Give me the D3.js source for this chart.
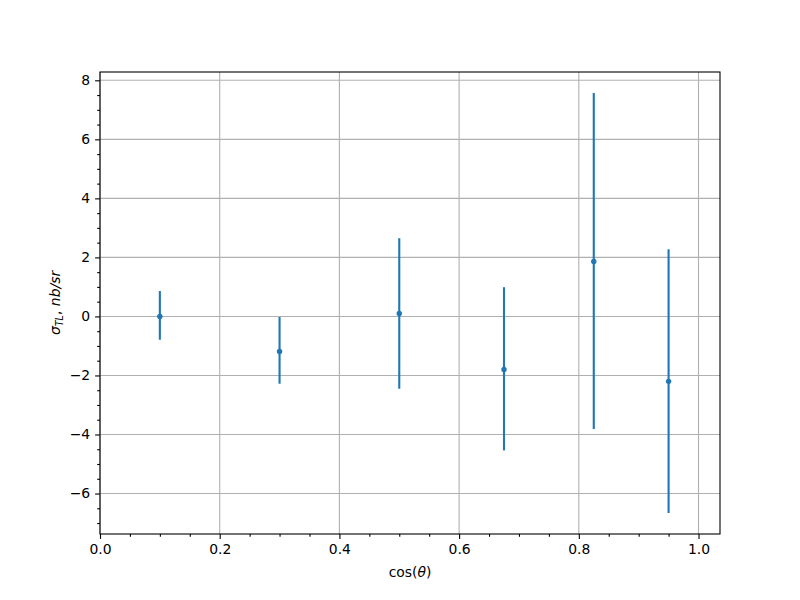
<!DOCTYPE html>
<html>
<head>
<meta charset="utf-8">
<script src="https://d3js.org/d3.v7.min.js"></script>
<style>
  body { margin: 0; background: #fff; }
  text { font-family: "DejaVu Sans", sans-serif; }
</style>
</head>
<body>
<svg id="chart" width="800" height="600"></svg>
<script>
// Data
const cosTheta = [0.1, 0.3, 0.5, 0.675, 0.825, 0.95];
const sigmaTL = [0.0, -1.19, 0.10, -1.80, 1.86, -2.20];
const errUpper = [0.86, 1.17, 2.55, 2.79, 5.71, 4.48];
const errLower = [0.79, 1.09, 2.55, 2.74, 5.67, 4.46];
const xTicks = [0.0, 0.2, 0.4, 0.6, 0.8, 1.0];
const yTicks = [-6, -4, -2, 0, 2, 4, 6, 8];

(function () {
const svg = d3.select("#chart");
const mLeft = 100, mRight = 720, mTop = 72, mBottom = 534;
const W = mRight - mLeft, H = mBottom - mTop;
const blue = "#1f77b4";

const yMinData = d3.min(sigmaTL.map((v, i) => v - errLower[i]));
const yMaxData = d3.max(sigmaTL.map((v, i) => v + errUpper[i]));
const pad = 0.05 * (yMaxData - yMinData);

const x = d3.scaleLinear().domain([0, 1.0359]).range([mLeft, mRight]);
const y = d3.scaleLinear().domain([yMinData - pad, yMaxData + pad]).range([mBottom, mTop]);

svg.append("rect").attr("x", 0).attr("y", 0).attr("width", 800).attr("height", 600).attr("fill", "#fff");

// grid
const g = svg.append("g");
g.selectAll(".gx").data(xTicks).enter().append("line")
  .attr("x1", d => x(d)).attr("x2", d => x(d)).attr("y1", mTop).attr("y2", mBottom)
  .attr("stroke", "#b0b0b0").attr("stroke-width", 1.1);
g.selectAll(".gy").data(yTicks).enter().append("line")
  .attr("x1", mLeft).attr("x2", mRight).attr("y1", d => y(d)).attr("y2", d => y(d))
  .attr("stroke", "#b0b0b0").attr("stroke-width", 1.1);

// axes
const fmtX = d3.format(".1f");
const xAxis = d3.axisBottom(x).tickValues(xTicks).tickFormat(fmtX).tickSize(4.9).tickPadding(4.9);
const xMinor = d3.range(0, 1.0359, 0.05).filter(v => Math.abs(v / 0.2 - Math.round(v / 0.2)) > 1e-6);
const xAxisMinor = d3.axisBottom(x).tickValues(xMinor).tickFormat("").tickSize(2.8);
const yAxis = d3.axisLeft(y).tickValues(yTicks).tickFormat(d => d < 0 ? "\u2212" + Math.abs(d) : d).tickSize(4.9).tickPadding(4.9);
const yMinor = d3.range(-7, 8.3, 0.5).filter(v => Math.abs(v / 2 - Math.round(v / 2)) > 1e-6);
const yAxisMinor = d3.axisLeft(y).tickValues(yMinor).tickFormat("").tickSize(2.8);

function style(sel) {
  sel.select(".domain").remove();
  sel.selectAll("line").attr("stroke", "#000").attr("stroke-width", 1.1);
  sel.selectAll("text").attr("fill", "#000").style("font-size", "13.9px").style("font-family", "DejaVu Sans, sans-serif");
}
svg.append("g").attr("transform", `translate(0,${mBottom})`).call(xAxis).call(style);
svg.append("g").attr("transform", `translate(0,${mBottom})`).call(xAxisMinor).call(style);
svg.append("g").attr("transform", `translate(${mLeft},0)`).call(yAxis).call(style);
svg.append("g").attr("transform", `translate(${mLeft},0)`).call(yAxisMinor).call(style);

// frame
svg.append("rect").attr("x", mLeft).attr("y", mTop).attr("width", W).attr("height", H)
  .attr("fill", "none").attr("stroke", "#000").attr("stroke-width", 1.1);

// error bars
const pts = cosTheta.map((c, i) => ({ c, v: sigmaTL[i], lo: sigmaTL[i] - errLower[i], hi: sigmaTL[i] + errUpper[i] }));
svg.selectAll(".eb").data(pts).enter().append("line")
  .attr("x1", d => x(d.c)).attr("x2", d => x(d.c))
  .attr("y1", d => y(d.lo)).attr("y2", d => y(d.hi))
  .attr("stroke", blue).attr("stroke-width", 2.1);
svg.selectAll(".pt").data(pts).enter().append("circle")
  .attr("cx", d => x(d.c)).attr("cy", d => y(d.v)).attr("r", 2.7).attr("fill", blue);

// labels
const xl = svg.append("text").attr("x", (mLeft + mRight) / 2).attr("y", 577)
  .attr("text-anchor", "middle").style("font-size", "13.9px");
xl.append("tspan").text("cos(");
xl.append("tspan").attr("font-style", "italic").text("\u03b8");
xl.append("tspan").text(")");

const yl = svg.append("text").attr("transform", `translate(60,${(mTop + mBottom) / 2}) rotate(-90)`)
  .attr("text-anchor", "middle").style("font-size", "13.9px").attr("font-style", "italic");
yl.append("tspan").text("\u03c3");
yl.append("tspan").attr("dy", 3).style("font-size", "9.7px").text("TL");
yl.append("tspan").attr("dy", -3).attr("font-style", "normal").text(", ");
yl.append("tspan").text("nb/sr");
})();
</script>
</body>
</html>
